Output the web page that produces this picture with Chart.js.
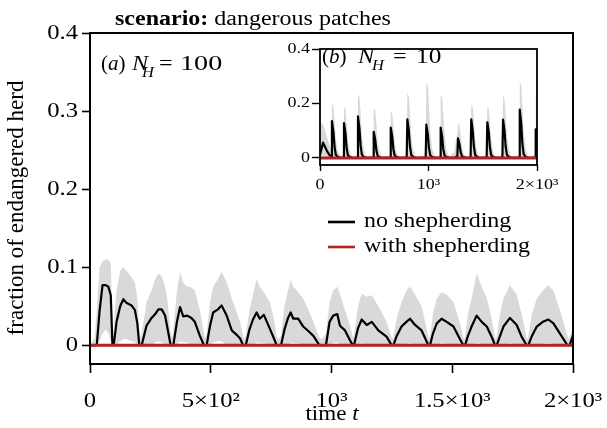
<!DOCTYPE html>
<html>
<head>
<meta charset="utf-8">
<title>dangerous patches</title>
<script src="https://cdn.jsdelivr.net/npm/chart.js@4.4.1/dist/chart.umd.min.js"></script>
<style>
  html, body { margin: 0; padding: 0; background: #fff; }
  #wrap { position: relative; width: 607px; height: 428px; }
  #mainChart { position: absolute; left: 0; top: 0; }
  #insetChart { position: absolute; left: 270px; top: 30px; }
</style>
</head>
<body>
<div id="wrap">
  <canvas id="mainChart" width="607" height="428"></canvas>
  <canvas id="insetChart" width="320" height="170"></canvas>
</div>
<script>
// panel (a): N_H = 100, time points with mean and grey band (low / high)
const mainT = [
  0, 20, 28, 40, 52, 65, 76, 86, 93, 97,
  100, 110, 125, 138, 152, 172, 186, 196, 204, 210,
  214, 234, 255, 270, 283, 297, 311, 320, 334, 340,
  345, 360, 373, 386, 403, 420, 434, 455, 472, 478,
  483, 497, 510, 530, 545, 566, 587, 605, 621, 634, 640,
  645, 660, 675, 690, 703, 720, 745, 760, 773, 780,
  791, 805, 820, 831, 842, 862, 883, 905, 925, 950, 960,
  977, 992, 1007, 1024, 1035, 1056, 1077, 1088,
  1093, 1110, 1125, 1146, 1167, 1194, 1228, 1249, 1253,
  1256, 1270, 1290, 1310, 1325, 1346, 1373, 1401, 1405,
  1408, 1420, 1436, 1456, 1477, 1505, 1535, 1546, 1550,
  1553, 1565, 1580, 1601, 1622, 1643, 1663, 1677, 1681,
  1684, 1698, 1712, 1739, 1767, 1787, 1808, 1812,
  1815, 1830, 1850, 1875, 1898, 1919, 1946, 1977, 1982,
  1986, 2000
];
const mainMean = [
  0, 0, 0, 0.045, 0.077, 0.077, 0.075, 0.064, 0, 0,
  0.005, 0.03, 0.05, 0.059, 0.054, 0.051, 0.045, 0.028, 0, 0,
  0, 0.025, 0.035, 0.04, 0.046, 0.046, 0.038, 0.023, 0, 0,
  0, 0.03, 0.049, 0.037, 0.038, 0.035, 0.03, 0.012, 0, 0,
  0, 0.025, 0.042, 0.046, 0.051, 0.038, 0.019, 0.014, 0.009, 0, 0,
  0, 0.02, 0.033, 0.042, 0.034, 0.039, 0.021, 0.01, 0, 0,
  0, 0.02, 0.035, 0.042, 0.034, 0.034, 0.024, 0.018, 0.012, 0, 0,
  0, 0.03, 0.038, 0.04, 0.025, 0.019, 0.006, 0,
  0, 0.022, 0.033, 0.026, 0.03, 0.019, 0.011, 0, 0,
  0, 0.012, 0.024, 0.03, 0.034, 0.026, 0.019, 0, 0,
  0, 0.015, 0.028, 0.034, 0.03, 0.024, 0.006, 0, 0,
  0, 0.012, 0.024, 0.038, 0.03, 0.024, 0.011, 0, 0,
  0, 0.012, 0.024, 0.035, 0.026, 0.011, 0, 0,
  0, 0.012, 0.024, 0.03, 0.033, 0.028, 0.015, 0, 0,
  0, 0.013
];
const mainLow = [
  0, 0, 0, 0.005, 0.015, 0.02, 0.015, 0.005, 0, 0,
  0, 0, 0.005, 0.008, 0.008, 0.005, 0.004, 0, 0, 0,
  0, 0, 0, 0.004, 0.005, 0.004, 0, 0, 0, 0,
  0, 0, 0.005, 0.004, 0.004, 0, 0, 0, 0, 0,
  0, 0, 0.004, 0.005, 0.005, 0, 0, 0, 0, 0, 0,
  0, 0, 0, 0.004, 0.003, 0.003, 0, 0, 0, 0,
  0, 0, 0, 0.004, 0.003, 0.003, 0, 0, 0, 0, 0,
  0, 0, 0.003, 0.004, 0, 0, 0, 0,
  0, 0, 0.003, 0, 0.002, 0, 0, 0, 0,
  0, 0, 0, 0.002, 0.003, 0, 0, 0, 0,
  0, 0, 0, 0.003, 0.002, 0, 0, 0, 0,
  0, 0, 0, 0.003, 0.002, 0, 0, 0, 0,
  0, 0, 0, 0.003, 0, 0, 0, 0,
  0, 0, 0, 0.002, 0.003, 0.002, 0, 0, 0,
  0, 0
];
const mainHigh = [
  0, 0.01, 0.045, 0.1, 0.108, 0.11, 0.11, 0.105, 0.02, 0.008,
  0.03, 0.07, 0.095, 0.1, 0.095, 0.087, 0.08, 0.06, 0.02, 0.01,
  0.015, 0.055, 0.07, 0.085, 0.092, 0.088, 0.075, 0.06, 0.015, 0.01,
  0.02, 0.07, 0.094, 0.08, 0.075, 0.074, 0.07, 0.045, 0.015, 0.008,
  0.015, 0.055, 0.075, 0.085, 0.094, 0.081, 0.06, 0.045, 0.03, 0.012, 0.008,
  0.012, 0.045, 0.065, 0.085, 0.075, 0.068, 0.055, 0.035, 0.012, 0.008,
  0.012, 0.05, 0.07, 0.084, 0.075, 0.068, 0.06, 0.045, 0.03, 0.01, 0.008,
  0.015, 0.055, 0.07, 0.075, 0.065, 0.045, 0.025, 0.01,
  0.012, 0.05, 0.066, 0.062, 0.064, 0.05, 0.03, 0.01, 0.008,
  0.01, 0.035, 0.055, 0.07, 0.075, 0.065, 0.05, 0.012, 0.008,
  0.012, 0.04, 0.06, 0.068, 0.065, 0.055, 0.025, 0.01, 0.008,
  0.012, 0.04, 0.06, 0.092, 0.075, 0.06, 0.035, 0.01, 0.008,
  0.012, 0.04, 0.06, 0.077, 0.065, 0.04, 0.01, 0.008,
  0.012, 0.04, 0.06, 0.07, 0.077, 0.07, 0.045, 0.012, 0.008,
  0.01, 0.024
];

// panel (b): N_H = 10, sharp spikes (grey band runs from 0 up to insetHigh)
const insetT = [
  0, 12, 28, 45, 65, 85, 100,
  104, 110, 124, 134, 146, 164, 188,
  215, 221, 235, 245, 257, 275, 299,
  344, 350, 364, 374, 386, 404, 428,
  489, 495, 509, 519, 531, 549, 573,
  646, 652, 666, 676, 688, 706, 730,
  799, 805, 819, 829, 841, 859, 883,
  974, 980, 994, 1004, 1016, 1034, 1058,
  1106, 1112, 1126, 1136, 1148, 1166, 1190,
  1235, 1255, 1266, 1272, 1286, 1296, 1308, 1326, 1350,
  1388, 1394, 1408, 1418, 1430, 1448, 1472,
  1536, 1542, 1556, 1566, 1578, 1596, 1620,
  1681, 1687, 1701, 1711, 1723, 1741, 1765,
  1835, 1841, 1855, 1865, 1877, 1895, 1919,
  1982, 1988, 1998, 2000
];
const insetMean = [
  0.012, 0.03, 0.056, 0.042, 0.025, 0.012, 0.006,
  0, 0.135, 0.095, 0.041, 0.011, 0.004, 0,
  0, 0.128, 0.09, 0.038, 0.01, 0.003, 0,
  0, 0.153, 0.107, 0.046, 0.012, 0.003, 0,
  0, 0.096, 0.067, 0.029, 0.008, 0.002, 0,
  0, 0.111, 0.078, 0.033, 0.009, 0.003, 0,
  0, 0.142, 0.099, 0.043, 0.011, 0.003, 0,
  0, 0.122, 0.085, 0.037, 0.01, 0.003, 0,
  0, 0.111, 0.078, 0.033, 0.009, 0.003, 0,
  0, 0.004, 0.004, 0.072, 0.05, 0.022, 0.006, 0.002, 0,
  0, 0.142, 0.099, 0.043, 0.011, 0.003, 0,
  0, 0.131, 0.092, 0.039, 0.01, 0.003, 0,
  0, 0.141, 0.099, 0.042, 0.011, 0.003, 0,
  0, 0.177, 0.124, 0.053, 0.014, 0.004, 0,
  0, 0.105, 0.084, 0.07
];
const insetHigh = [
  0.06, 0.13, 0.125, 0.105, 0.075, 0.05, 0.03,
  0.03, 0.2, 0.19, 0.14, 0.07, 0.024, 0.01,
  0.01, 0.187, 0.178, 0.131, 0.065, 0.022, 0.004,
  0.01, 0.235, 0.223, 0.165, 0.082, 0.028, 0.005,
  0.01, 0.183, 0.174, 0.128, 0.064, 0.022, 0.004,
  0.01, 0.171, 0.162, 0.12, 0.06, 0.021, 0.004,
  0.01, 0.238, 0.226, 0.167, 0.083, 0.029, 0.005,
  0.01, 0.277, 0.263, 0.194, 0.097, 0.033, 0.005,
  0.01, 0.233, 0.221, 0.163, 0.082, 0.028, 0.005,
  0.02, 0.07, 0.09, 0.126, 0.12, 0.088, 0.044, 0.015, 0.004,
  0.01, 0.196, 0.186, 0.137, 0.069, 0.024, 0.004,
  0.01, 0.19, 0.18, 0.133, 0.067, 0.023, 0.004,
  0.01, 0.229, 0.218, 0.16, 0.08, 0.027, 0.005,
  0.01, 0.28, 0.266, 0.196, 0.098, 0.034, 0.005,
  0.01, 0.22, 0.21, 0.2
];

// with shepherding the endangered fraction stays at zero over the whole run
const shepT = [0, 2000];
const shepVal = [0, 0];

const mainXTicks = [0, 500, 1000, 1500, 2000];
const mainXLabels = ['0', '5×10²', '10³', '1.5×10³', '2×10³'];
const mainYTicks = [0, 0.1, 0.2, 0.3, 0.4];
const mainYLabels = ['0', '0.1', '0.2', '0.3', '0.4'];
const insetXTicks = [0, 1000, 2000];
const insetXLabels = ['0', '10³', '2×10³'];
const insetYTicks = [0, 0.2, 0.4];
const insetYLabels = ['0', '0.2', '0.4'];
const seriesNames = ['no shepherding', 'with shepherding'];

const FONT = "'Liberation Serif', 'Times New Roman', serif";
const GREY = 'rgb(217, 217, 217)';
const RED = '#b22222';

function px(size, style) {
  return (style ? style + ' ' : '') + size + 'px ' + FONT;
}

function pts(xs, ys) {
  return xs.map((x, i) => ({ x: x, y: ys[i] }));
}

// text drawn with a horizontal stretch factor; returns the right edge
function sText(ctx, str, x, y, font, sx, align) {
  ctx.save();
  ctx.font = font;
  ctx.textAlign = 'left';
  const w = ctx.measureText(str).width * sx;
  const x0 = align === 'right' ? x - w : align === 'center' ? x - w / 2 : x;
  ctx.translate(x0, y);
  ctx.scale(sx, 1);
  ctx.fillText(str, 0, 0);
  ctx.restore();
  return x0 + w;
}

// axes with outward ticks and fixed sizes so the plot box lands where we want it
function makeScales(o) {
  const fixPad = s => { s.paddingLeft = 0; s.paddingRight = 0; s.paddingTop = 0; s.paddingBottom = 0; };
  return {
    x: {
      type: 'linear', min: 0, max: 2000,
      afterBuildTicks: s => { s.ticks = o.xTicks.map(v => ({ value: v })); },
      afterFit: s => { s.height = o.xHeight; fixPad(s); },
      ticks: { display: false },
      grid: { drawOnChartArea: false, tickLength: o.xTick, tickColor: '#000', tickWidth: o.lw },
      border: { display: false }
    },
    y: {
      type: 'linear', min: o.yMin, max: 0.4,
      afterBuildTicks: s => { s.ticks = o.yTicks.map(v => ({ value: v })); },
      afterFit: s => { s.width = o.yWidth; fixPad(s); },
      ticks: { display: false },
      grid: { drawOnChartArea: false, tickLength: o.yTick, tickColor: '#000', tickWidth: o.lw },
      border: { display: false }
    }
  };
}

// box around the plotting area
const framePlugin = {
  id: 'frame',
  afterDatasetsDraw(chart, args, opts) {
    const { ctx, chartArea: a } = chart;
    ctx.save();
    ctx.strokeStyle = '#000';
    ctx.lineWidth = opts.width || 2;
    ctx.strokeRect(a.left, a.top, a.right - a.left, a.bottom - a.top);
    ctx.restore();
  }
};

// tick labels, placed with the chart's own scales
function drawTickLabels(chart, o) {
  const ctx = chart.ctx, xs = chart.scales.x, ys = chart.scales.y;
  ctx.save();
  ctx.fillStyle = '#000';
  ctx.textBaseline = 'middle';
  o.yTicks.forEach((v, i) => sText(ctx, o.yLabels[i], o.yRight, ys.getPixelForValue(v), o.font, o.sx, 'right'));
  ctx.textBaseline = 'alphabetic';
  o.xTicks.forEach((v, i) => sText(ctx, o.xLabels[i], xs.getPixelForValue(v), o.xBase, o.font, o.sx, 'center'));
  ctx.restore();
}

// "(a)  N_H = 100" style panel tag
function panelLabel(ctx, p) {
  ctx.save();
  ctx.fillStyle = '#000';
  ctx.textBaseline = 'alphabetic';
  let x = sText(ctx, '(', p.x, p.y, px(21), 1);
  x = sText(ctx, p.letter, x, p.y, px(21, 'italic'), 1);
  sText(ctx, ')', x, p.y, px(21), 1);
  sText(ctx, 'N', p.xN, p.y, px(22, 'italic'), 1.1);
  sText(ctx, 'H', p.xH, p.y + 7, px(15, 'italic'), 1.1);
  sText(ctx, '=', p.xEq, p.y, px(22), 1.1);
  sText(ctx, p.n, p.xNum, p.y, px(22), p.numSx);
  ctx.restore();
}

const mainText = {
  id: 'mainText',
  afterDraw(chart) {
    const ctx = chart.ctx;
    drawTickLabels(chart, {
      xTicks: mainXTicks, xLabels: mainXLabels, yTicks: mainYTicks, yLabels: mainYLabels,
      font: px(22), sx: 1.12, yRight: 78, xBase: 407
    });
    ctx.save();
    ctx.fillStyle = '#000';
    ctx.textBaseline = 'alphabetic';
    const tx = sText(ctx, 'scenario:', 115, 25, px(20, 'bold'), 1.2);
    sText(ctx, ' dangerous patches', tx, 25, px(20), 1.2);

    panelLabel(ctx, { x: 101, y: 70, letter: 'a', xN: 132, xH: 142, xEq: 159, xNum: 180, n: '100', numSx: 1.28 });

    // axis titles
    ctx.font = px(21);
    const w1 = ctx.measureText('time ').width * 1.1;
    ctx.font = px(21, 'italic');
    const w2 = ctx.measureText('t').width * 1.1;
    const ex = sText(ctx, 'time ', 332 - (w1 + w2) / 2, 420, px(21), 1.1);
    sText(ctx, 't', ex, 420, px(21, 'italic'), 1.1);

    ctx.save();
    ctx.translate(23, 208);
    ctx.rotate(-Math.PI / 2);
    ctx.font = px(23);
    ctx.textAlign = 'center';
    ctx.fillText('fraction of endangered herd', 0, 0);
    ctx.restore();

    // legend
    const colors = ['#000', RED];
    seriesNames.forEach((name, i) => {
      const y = 222 + i * 25;
      ctx.strokeStyle = colors[i];
      ctx.lineWidth = 2.6;
      ctx.beginPath();
      ctx.moveTo(328, y);
      ctx.lineTo(355, y);
      ctx.stroke();
      sText(ctx, name, 364, y + 5, px(20), 1.2);
    });
    ctx.restore();
  }
};

const insetText = {
  id: 'insetText',
  afterDraw(chart) {
    drawTickLabels(chart, {
      xTicks: insetXTicks, xLabels: insetXLabels, yTicks: insetYTicks, yLabels: insetYLabels,
      font: px(15), sx: 1.2, yRight: 40, xBase: 159
    });
    panelLabel(chart.ctx, { x: 52, y: 33, letter: 'b', xN: 88, xH: 102, xEq: 123, xNum: 146, n: '10', numSx: 1.15 });
  }
};

function bandDatasets(t, mean, low, high, meanWidth) {
  const sets = [];
  sets.push({ data: pts(shepT, shepVal), borderColor: RED, borderWidth: 3, order: 0 });
  sets.push({ data: pts(t, mean), borderColor: '#000', borderWidth: meanWidth, order: 1 });
  if (low) {
    sets.push({ data: pts(t, low), borderWidth: 0, borderColor: 'rgba(0,0,0,0)', order: 3 });
    sets.push({ data: pts(t, high), borderWidth: 0, borderColor: 'rgba(0,0,0,0)',
                backgroundColor: GREY, fill: '-1', order: 2 });
  } else {
    sets.push({ data: pts(t, high), borderWidth: 0, borderColor: 'rgba(0,0,0,0)',
                backgroundColor: GREY, fill: 'origin', order: 2 });
  }
  return sets;
}

const commonOpts = {
  responsive: false,
  animation: false,
  events: [],
  elements: { point: { radius: 0 }, line: { tension: 0, borderJoinStyle: 'round' } },
};

new Chart(document.getElementById('mainChart'), {
  type: 'line',
  data: { datasets: bandDatasets(mainT, mainMean, mainLow, mainHigh, 2.2) },
  options: Object.assign({}, commonOpts, {
    layout: { padding: { top: 33, right: 34, bottom: 0, left: 0 } },
    scales: makeScales({
      xTicks: mainXTicks, yTicks: mainYTicks, yMin: -0.024,
      xTick: 9, yTick: 8, lw: 1.6, xHeight: 64, yWidth: 90
    }),
    plugins: { legend: { display: false }, tooltip: { enabled: false }, frame: { width: 2 } }
  }),
  plugins: [framePlugin, mainText]
});

new Chart(document.getElementById('insetChart'), {
  type: 'line',
  data: { datasets: bandDatasets(insetT, insetMean, null, insetHigh, 2.2) },
  options: Object.assign({}, commonOpts, {
    layout: { padding: { top: 19, right: 53, bottom: 0, left: 0 } },
    scales: makeScales({
      xTicks: insetXTicks, yTicks: insetYTicks, yMin: -0.026,
      xTick: 6, yTick: 8, lw: 1.4, xHeight: 35, yWidth: 50
    }),
    plugins: { legend: { display: false }, tooltip: { enabled: false }, frame: { width: 1.8 } }
  }),
  plugins: [framePlugin, insetText]
});
</script>
</body>
</html>
